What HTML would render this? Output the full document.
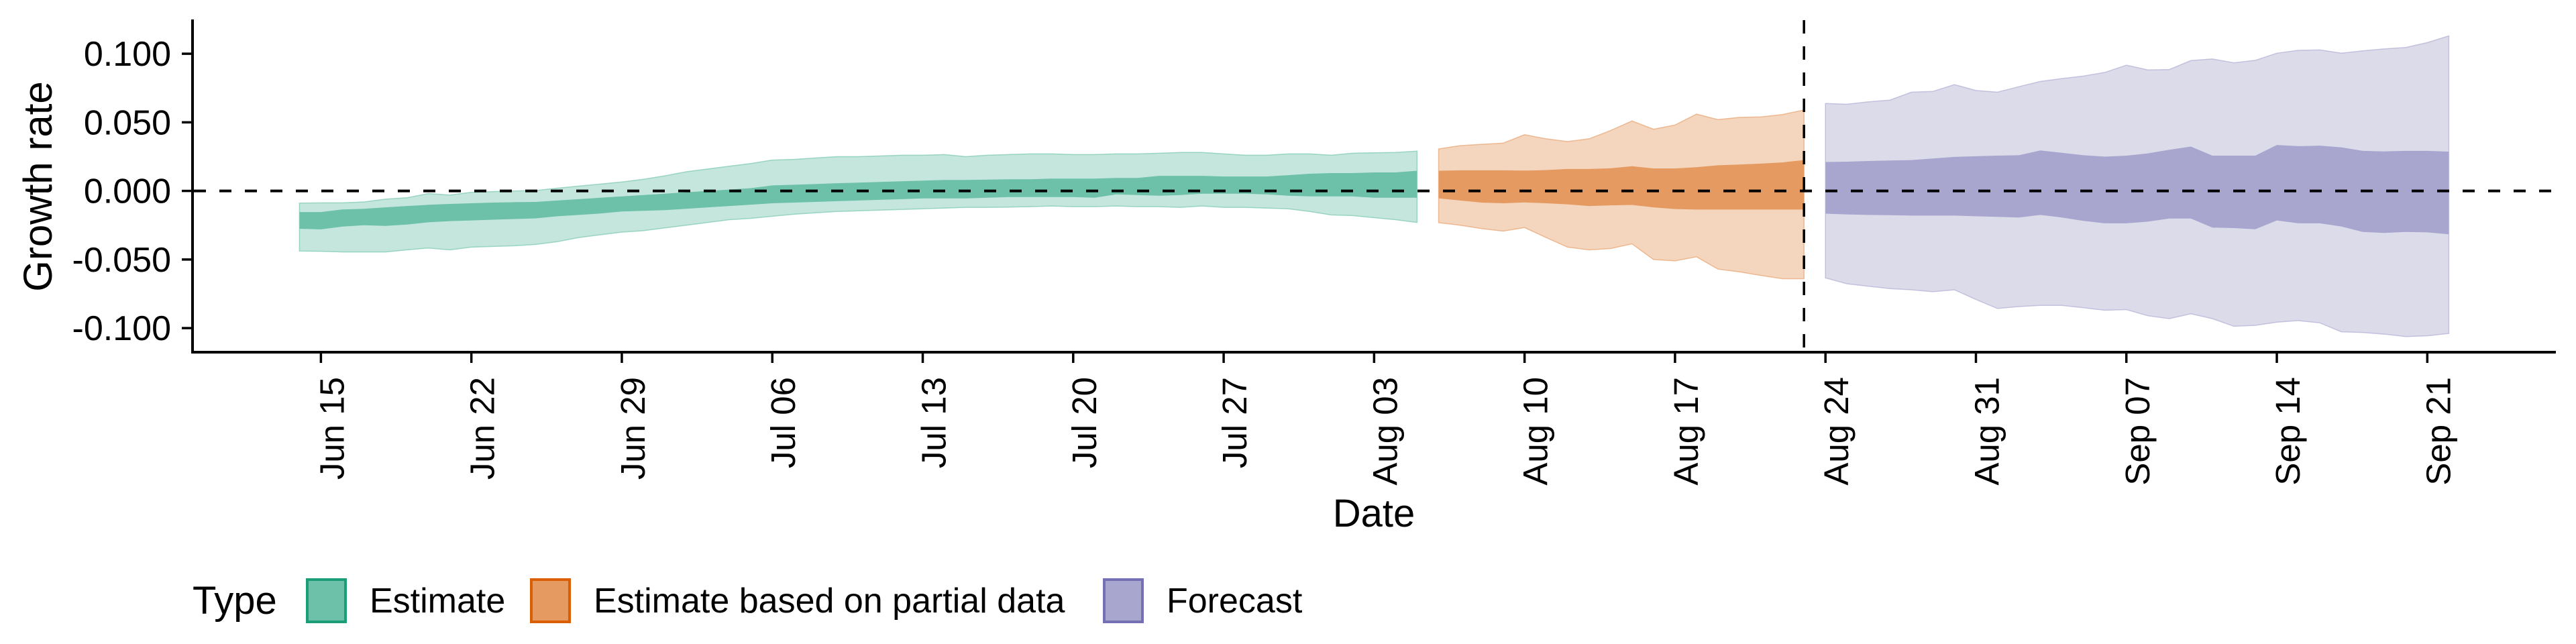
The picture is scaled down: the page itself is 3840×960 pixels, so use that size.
<!DOCTYPE html>
<html><head><meta charset="utf-8"><style>
html,body{margin:0;padding:0;background:#fff;}
svg{display:block;font-family:"Liberation Sans",Arial,sans-serif;}
</style></head><body>
<svg id="chart" width="3840" height="960" viewBox="0 0 3840 960" xmlns="http://www.w3.org/2000/svg">
<g id="bands"></g>
<g id="axes"></g>
</svg>
<script>
// ---- data (day offsets relative to Jun 15) ----
const estDays = [-1,0,1,2,3,4,5,6,7,8,9,10,11,12,13,14,15,16,17,18,19,20,21,22,23,24,25,26,27,28,29,30,31,32,33,34,35,36,37,38,39,40,41,42,43,44,45,46,47,48,49,50,51];
const estUpper90 = [-.0089,-.0087,-.0087,-.008,-.006,-.005,-.0019,-.003,-.001,-.0005,0,.0003,.002,.0035,.005,.0065,.0085,.011,.014,.016,.018,.020,.0225,.023,.024,.025,.025,.0255,.026,.026,.0265,.025,.026,.0265,.027,.027,.0265,.0265,.027,.027,.0275,.028,.028,.027,.026,.026,.027,.027,.026,.0275,.0278,.028,.029];
const estLower90 = [-.0438,-.044,-.0445,-.0445,-.0445,-.043,-.0416,-.043,-.041,-.0405,-.040,-.039,-.037,-.034,-.032,-.030,-.029,-.027,-.025,-.023,-.021,-.020,-.0185,-.017,-.016,-.015,-.0145,-.014,-.0135,-.013,-.0125,-.012,-.012,-.0118,-.0115,-.011,-.0115,-.0115,-.011,-.0115,-.0115,-.012,-.011,-.012,-.012,-.0125,-.013,-.015,-.0175,-.018,-.0195,-.021,-.023];
const estUpper50 = [-.0154,-.0154,-.0135,-.013,-.012,-.011,-.0101,-.0095,-.009,-.0085,-.0082,-.008,-.007,-.006,-.005,-.004,-.003,-.002,-.001,0,.001,.002,.004,.0045,.005,.0056,.006,.0065,.007,.0075,.008,.008,.0082,.0085,.0085,.009,.009,.009,.0095,.0095,.011,.011,.011,.0105,.0105,.0105,.0115,.0125,.013,.013,.0135,.0135,.0147];
const estLower50 = [-.0276,-.028,-.026,-.025,-.0255,-.0245,-.0229,-.022,-.0215,-.021,-.0205,-.020,-.0185,-.0175,-.0165,-.015,-.0145,-.014,-.013,-.012,-.011,-.010,-.009,-.0085,-.008,-.0075,-.007,-.0065,-.006,-.0055,-.0055,-.0055,-.005,-.0045,-.0045,-.0045,-.0045,-.005,-.0025,-.003,-.0035,-.003,-.002,-.002,-.002,-.0025,-.0035,-.004,-.004,-.004,-.005,-.005,-.005];

const partDays = [52,53,54,55,56,57,58,59,60,61,62,63,64,65,66,67,68,69];
const partUpper90 = [.0306,.0330,.0340,.0348,.0410,.0380,.0360,.0380,.0440,.0510,.0450,.0480,.0560,.0520,.0536,.0540,.0557,.0590];
const partUpper50 = [.0147,.0150,.0150,.0150,.0148,.0152,.0160,.0160,.0165,.0180,.0164,.0164,.0173,.0187,.0192,.0199,.0208,.0225];
const partLower50 = [-.0054,-.0070,-.0085,-.0090,-.0084,-.0090,-.0098,-.0110,-.0105,-.0102,-.0120,-.0132,-.0136,-.0136,-.0136,-.0136,-.0136,-.0136];
const partLower90 = [-.0232,-.0250,-.0275,-.0293,-.0267,-.0340,-.0410,-.0430,-.0420,-.0386,-.0500,-.0510,-.0480,-.0570,-.0590,-.0616,-.0640,-.0640];

const fcDays = [70,71,72,73,74,75,76,77,78,79,80,81,82,83,84,85,86,87,88,89,90,91,92,93,94,95,96,97,98,99];
const fcUpper90 = [.0637,.0632,.0650,.0662,.0720,.0725,.0775,.0732,.0720,.0760,.0798,.0819,.0837,.0864,.0917,.0882,.0885,.0950,.0962,.0934,.0952,.1004,.1025,.1028,.1004,.1021,.1035,.1046,.1081,.1130];
const fcUpper50 = [.0211,.0213,.0218,.0222,.0225,.0236,.0248,.0253,.0257,.0260,.0295,.0278,.0260,.0250,.0257,.0274,.0300,.0323,.0257,.0257,.0257,.0335,.0326,.0330,.0318,.0292,.0288,.0292,.0292,.0286];
const fcLower50 = [-.0166,-.0171,-.0175,-.0177,-.0180,-.0180,-.0180,-.0185,-.0189,-.0194,-.0175,-.0194,-.0218,-.0236,-.0236,-.0224,-.0201,-.0201,-.0267,-.0271,-.0279,-.0215,-.0236,-.0236,-.0259,-.0299,-.0306,-.0299,-.0302,-.0316];
const fcLower90 = [-.0634,-.0677,-.0695,-.0712,-.0721,-.0735,-.0721,-.0791,-.0857,-.0843,-.0834,-.0834,-.0852,-.0870,-.0865,-.0910,-.0931,-.0896,-.0931,-.0987,-.0980,-.0957,-.0945,-.0962,-.1027,-.1032,-.1044,-.1062,-.1056,-.1039];

const xTickDays = [0,7,14,21,28,35,42,49,56,63,70,77,84,91,98];
const xTickLabels = ["Jun 15","Jun 22","Jun 29","Jul 06","Jul 13","Jul 20","Jul 27","Aug 03","Aug 10","Aug 17","Aug 24","Aug 31","Sep 07","Sep 14","Sep 21"];
const yTickValues = [0.1,0.05,0,-0.05,-0.1];
const yTickLabels = ["0.100","0.050","0.000","-0.050","-0.100"];
const cutoffDay = 69;

// ---- scales ----
const X0 = 478.4, PX_PER_DAY = 32.04;
const Y0 = 284.6, PX_PER_UNIT = 2045;
const xS = d => X0 + d * PX_PER_DAY;
const yS = v => Y0 - v * PX_PER_UNIT;
const NS = "http://www.w3.org/2000/svg";
const bands = document.getElementById('bands');
const axes = document.getElementById('axes');

function mk(tag, attrs, parent){
  const e = document.createElementNS(NS, tag);
  for (const k in attrs) e.setAttribute(k, attrs[k]);
  parent.appendChild(e);
  return e;
}
function bandPath(days, up, lo){
  let d = '';
  days.forEach((t,i)=>{ d += (i?'L':'M') + xS(t).toFixed(1) + ',' + yS(up[i]).toFixed(1); });
  for (let i = days.length-1; i >= 0; i--) d += 'L' + xS(days[i]).toFixed(1) + ',' + yS(lo[i]).toFixed(1);
  return d + 'Z';
}
function drawType(name, days, u90, l90, u50, l50, outer, inner, edge){
  const o = mk('path', {d: bandPath(days,u90,l90), fill: outer, stroke: edge, 'stroke-width': 1.5, 'stroke-opacity': 0.6}, bands);
  
  
  const i = mk('path', {d: bandPath(days,u50,l50), fill: inner}, bands);
  
  
}
drawType('estimate', estDays, estUpper90, estLower90, estUpper50, estLower50, '#c4e6dc', '#6cc1a8', '#6cc1a8');
drawType('partial-estimate', partDays, partUpper90, partLower90, partUpper50, partLower50, '#f4d5be', '#e59a61', '#e59a61');
drawType('forecast', fcDays, fcUpper90, fcLower90, fcUpper50, fcLower50, '#dcdbea', '#a8a5cf', '#a8a5cf');

// zero line
const zl = mk('line', {x1: 289, x2: 3810, y1: yS(0), y2: yS(0), stroke: '#000', 'stroke-width': 4, 'stroke-dasharray': '18 20'}, axes);


// cutoff line
const cl = mk('line', {x1: xS(cutoffDay), x2: xS(cutoffDay), y1: 30, y2: 525, stroke: '#000', 'stroke-width': 3.5, 'stroke-dasharray': '20 19'}, axes);



// axis lines
const ya = mk('line', {x1: 287, x2: 287, y1: 29, y2: 527, stroke: '#000', 'stroke-width': 4}, axes);


const xa = mk('line', {x1: 285, x2: 3810, y1: 525, y2: 525, stroke: '#000', 'stroke-width': 4}, axes);



// y ticks
yTickValues.forEach((v,i)=>{
  const t = mk('line', {x1: 271, x2: 287, y1: yS(v), y2: yS(v), stroke: '#000', 'stroke-width': 3.5}, axes);
  
  
  const l = mk('text', {x: 255, y: yS(v) + 18, 'text-anchor': 'end', 'font-size': 52, fill: '#000'}, axes);
  l.textContent = yTickLabels[i];
  
  
});
// x ticks
xTickDays.forEach((d,i)=>{
  const x = xS(d);
  const t = mk('line', {x1: x, x2: x, y1: 525, y2: 541, stroke: '#000', 'stroke-width': 3.5}, axes);
  
  
  const l = mk('text', {x: 0, y: 0, 'text-anchor': 'end', 'font-size': 51, fill: '#000', transform: 'translate(' + (x + 34).toFixed(1) + ',562) rotate(-90)'}, axes);
  l.textContent = xTickLabels[i];
  
  
});

// titles
const yt = mk('text', {x: 0, y: 0, 'text-anchor': 'middle', 'font-size': 60, fill: '#000', transform: 'translate(77,278) rotate(-90)'}, axes);
yt.textContent = 'Growth rate';


const xt = mk('text', {x: 2048, y: 785, 'text-anchor': 'middle', 'font-size': 58, fill: '#000'}, axes);
xt.textContent = 'Date';



// legend
const lg = mk('g', {}, axes);


const lt = mk('text', {x: 287, y: 915, 'font-size': 58, fill: '#000'}, lg);
lt.textContent = 'Type';


const legendLabels = ['Estimate','Estimate based on partial data','Forecast'];
const legendFill = ['#6cc1a8','#e59a61','#a8a5cf'];
const legendEdge = ['#1b9e77','#d95f02','#7570b3'];
const legendKeyX = [458, 792, 1646];
legendLabels.forEach((s,i)=>{
  const r = mk('rect', {x: legendKeyX[i], y: 864, width: 57, height: 63, fill: legendFill[i], stroke: legendEdge[i], 'stroke-width': 4}, lg);
  
  
  const t = mk('text', {x: legendKeyX[i] + 93, y: 913, 'font-size': 52, fill: '#000'}, lg);
  t.textContent = s;
  
  
});
</script>
</body></html>
